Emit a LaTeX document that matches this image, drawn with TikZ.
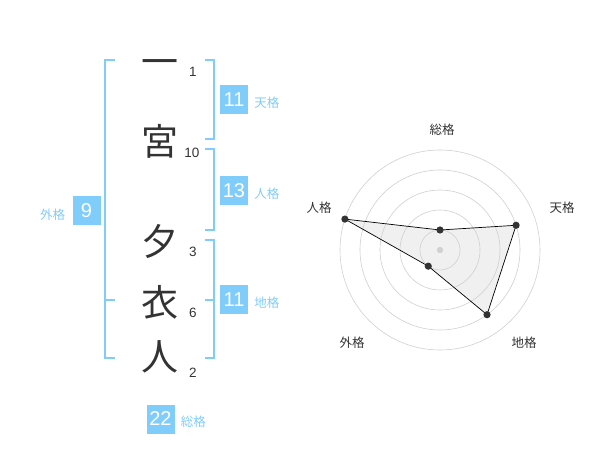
\documentclass[tikz,border=0pt]{standalone}
\usepackage{fontspec}
\setmainfont{Liberation Sans}
\newfontfamily\jpfont{Noto Sans CJK JP}
\usetikzlibrary{positioning}
\definecolor{fortune}{RGB}{128,204,250}
\definecolor{ink}{RGB}{51,51,51}
\definecolor{ring}{RGB}{208,208,208}

\begin{document}
\begin{tikzpicture}[x=1pt, y=-1pt,
    kanji/.style={text=ink, font=\jpfont\fontsize{37}{37}\selectfont, inner sep=0},
    strokes/.style={text=ink, font=\fontsize{13.5}{13.5}\selectfont, inner sep=0},
    luck/.style={fill=fortune, text=white, font=\fontsize{20}{20}\selectfont,
        minimum width=28, minimum height=29, inner sep=0},
    luckname/.style={text=fortune, font=\jpfont\fontsize{12.5}{12.5}\selectfont, inner sep=0},
    bracket/.style={draw=fortune, line width=1.6},
    axisname/.style={text=ink, font=\jpfont\fontsize{12.5}{12.5}\selectfont, inner sep=0},
]

    \useasboundingbox (0,0) rectangle (600,470);

    %% Name and stroke counts

    % Characters
    \node[kanji] (ichi) at (160,68) {一};
    \node[kanji] (miya) at (160,141) {宮};
    \node[kanji] (yu) at (160,242) {夕};
    \node[kanji] (i) at (160,302) {衣};
    \node[kanji] (hito) at (160,357) {人};

    % Stroke counts
    \node[strokes] (n1) at (193,72) {1};
    \node[strokes] (n2) at (192,153) {10};
    \node[strokes] (n3) at (193,252) {3};
    \node[strokes] (n4) at (193,313) {6};
    \node[strokes] (n5) at (193,373) {2};

    % Brackets
    \draw[bracket] (115,60) -- (105,60) -- (105,358) -- (115,358);
    \draw[bracket] (105,300) -- (115,300);
    \draw[bracket] (205,60) -- (214,60) -- (214,139) -- (205,139);
    \draw[bracket] (205,149) -- (214,149) -- (214,230) -- (205,230);
    \draw[bracket] (205,240) -- (214,240) -- (214,358) -- (205,358);
    \draw[bracket] (205,300) -- (214,300);

    % Fortunes
    \node[luck] (heaven) at (234,100) {11};
    \node[luckname, right=6 of heaven, yshift=-3] (heavenname) {天格};
    \node[luck] (person) at (234,190.5) {13};
    \node[luckname, right=6 of person, yshift=-3] (personname) {人格};
    \node[luck] (earth) at (234,300) {11};
    \node[luckname, right=6 of earth, yshift=-3] (earthname) {地格};
    \node[luck] (outer) at (86.5,210.5) {9};
    \node[luckname, left=7 of outer, yshift=-4] (outername) {外格};
    \node[luck] (total) at (160.5,419) {22};
    \node[luckname, right=6 of total, yshift=-3] (totalname) {総格};

    %% Radar chart

    \begin{scope}[shift={(440,250)}, yscale=-1]
        % Values
        \coordinate (T) at (90:20);
        \coordinate (H) at (18:80);
        \coordinate (E) at (-54:80);
        \coordinate (O) at (-126:20);
        \coordinate (P) at (162:100);

        \fill[black!6] (T) -- (H) -- (E) -- (O) -- (P) -- cycle;

        % Rings
        \foreach \r in {20,40,60,80,100}
            \draw[ring, line width=0.6] (0,0) circle (\r);
        \fill[ring] (0,0) circle (3.2);

        % Outline
        \draw[black, line width=0.7] (T) -- (H) -- (E) -- (O) -- (P) -- cycle;
        \foreach \p in {T,H,E,O,P}
            \fill[ink] (\p) circle (3.6);
    \end{scope}

    % Axis names
    \node[axisname] (totalaxis) at (442,130) {総格};
    \node[axisname] (heavenaxis) at (562,208) {天格};
    \node[axisname] (personaxis) at (319,208) {人格};
    \node[axisname] (outeraxis) at (352,343) {外格};
    \node[axisname] (earthaxis) at (524,343) {地格};

\end{tikzpicture}
\end{document}
